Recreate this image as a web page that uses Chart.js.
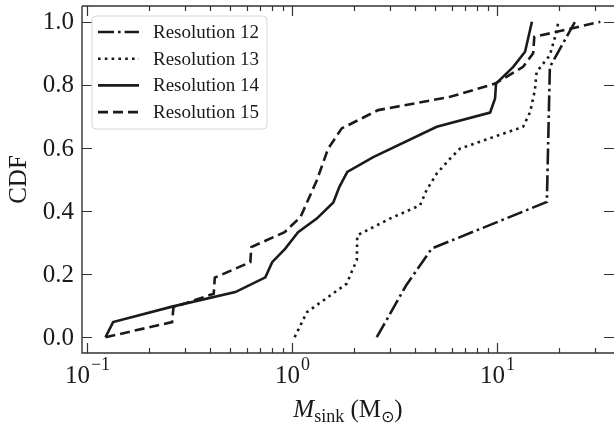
<!DOCTYPE html>
<html>
<head>
<meta charset="utf-8">
<script src="https://cdn.jsdelivr.net/npm/chart.js@4"></script>
<style>
    html, body { margin: 0; padding: 0; background: #fff; }
    #wrap { width: 614px; height: 424px; }
</style>
</head>
<body>
<div id="wrap"><canvas id="cdfChart" width="614" height="424"></canvas></div>
<script>
// Sink mass CDF per resolution level
const res12Mass = [2.59, 3.6, 4.8, 17.5, 18.1, 24.0];
const res12Cdf  = [0.0, 0.164, 0.281, 0.429, 0.857, 1.0];

const res13Mass = [1.03, 1.18, 1.85, 1.95, 2.07, 2.08, 3.0, 4.21, 4.53, 5.08, 5.9, 6.6, 13.4, 14.5, 15.3, 15.6, 18.1, 19.5, 19.9];
const res13Cdf  = [0.0, 0.079, 0.17, 0.206, 0.244, 0.323, 0.376, 0.418, 0.466, 0.519, 0.566, 0.598, 0.667, 0.714, 0.783, 0.841, 0.894, 0.968, 1.0];

const res14Mass = [0.123, 0.134, 0.26, 0.529, 0.741, 0.80, 0.927, 1.07, 1.32, 1.59, 1.70, 1.86, 2.49, 5.08, 9.25, 9.78, 9.89, 12.0, 13.7, 14.8];
const res14Cdf  = [0.0, 0.048, 0.097, 0.143, 0.19, 0.238, 0.281, 0.333, 0.376, 0.427, 0.476, 0.524, 0.571, 0.667, 0.712, 0.757, 0.804, 0.857, 0.905, 1.0];

const res15Mass = [0.123, 0.26, 0.264, 0.415, 0.42, 0.626, 0.633, 0.92, 1.1, 1.32, 1.50, 1.747, 2.63, 5.9, 9.78, 13.4, 15.0, 15.2, 31.9];
const res15Cdf  = [0.0, 0.048, 0.095, 0.138, 0.189, 0.238, 0.286, 0.333, 0.381, 0.497, 0.598, 0.662, 0.72, 0.762, 0.804, 0.857, 0.9, 0.952, 1.0];

const seriesLabels = ['Resolution 12', 'Resolution 13', 'Resolution 14', 'Resolution 15'];
const seriesDashes = [[16, 4, 2.6, 4], [2.6, 4.2], [], [10, 5]];

const yTicks = [0.0, 0.2, 0.4, 0.6, 0.8, 1.0];
const yTickLabels = ['0.0', '0.2', '0.4', '0.6', '0.8', '1.0'];
const xMajorTicks = [0.1, 1, 10];
const xMajorExp = ['\u22121', '0', '1'];
const xMinorTicks = [0.2, 0.3, 0.4, 0.5, 0.6, 0.7, 0.8, 0.9, 2, 3, 4, 5, 6, 7, 8, 9, 20, 30];

const SERIF = '"Liberation Serif", "DejaVu Serif", serif';
const INK = '#1a1a1a';

function toPoints(xs, ys) {
    return xs.map((v, i) => ({ x: v, y: ys[i] }));
}

const allMass = [res12Mass, res13Mass, res14Mass, res15Mass];
const allCdf = [res12Cdf, res13Cdf, res14Cdf, res15Cdf];

const datasets = seriesLabels.map((label, i) => ({
    label: label,
    data: toPoints(allMass[i], allCdf[i]),
    borderColor: INK,
    borderWidth: 2.6,
    borderDash: seriesDashes[i],
    pointRadius: 0,
    tension: 0,
    fill: false
}));

// axes, ticks, labels and legend drawn in matplotlib style
const axisDecor = {
    id: 'axisDecor',
    afterDraw(chart) {
        const ctx = chart.ctx;
        const a = chart.chartArea;
        const xs = chart.scales.x;
        const ys = chart.scales.y;
        ctx.save();

        // frame (right spine falls just outside the picture)
        ctx.strokeStyle = '#333';
        ctx.lineWidth = 1.4;
        ctx.setLineDash([]);
        ctx.beginPath();
        ctx.moveTo(a.left, a.top); ctx.lineTo(a.right, a.top);
        ctx.moveTo(a.left, a.top); ctx.lineTo(a.left, a.bottom); ctx.lineTo(a.right, a.bottom);
        ctx.stroke();

        // tick marks, pointing inward
        ctx.lineWidth = 1.2;
        ctx.beginPath();
        xMajorTicks.forEach(v => {
            const px = Math.round(xs.getPixelForValue(v)) + 0.5;
            ctx.moveTo(px, a.bottom); ctx.lineTo(px, a.bottom - 10);
            ctx.moveTo(px, a.top); ctx.lineTo(px, a.top + 10);
        });
        xMinorTicks.forEach(v => {
            const px = Math.round(xs.getPixelForValue(v)) + 0.5;
            ctx.moveTo(px, a.bottom); ctx.lineTo(px, a.bottom - 5);
            ctx.moveTo(px, a.top); ctx.lineTo(px, a.top + 5);
        });
        yTicks.forEach(v => {
            const py = Math.round(ys.getPixelForValue(v)) + 0.5;
            ctx.moveTo(a.left, py); ctx.lineTo(a.left + 10, py);
            ctx.moveTo(a.right + 1, py); ctx.lineTo(a.right - 10, py);
        });
        ctx.stroke();

        ctx.fillStyle = INK;

        // y tick labels
        ctx.font = '25px ' + SERIF;
        ctx.textAlign = 'right';
        ctx.textBaseline = 'middle';
        yTicks.forEach((v, i) => {
            ctx.fillText(yTickLabels[i], a.left - 8, ys.getPixelForValue(v) + 1);
        });

        // x tick labels 10^n
        ctx.textAlign = 'left';
        ctx.textBaseline = 'alphabetic';
        xMajorTicks.forEach((v, i) => {
            const px = xs.getPixelForValue(v);
            ctx.font = '25px ' + SERIF;
            const w1 = ctx.measureText('10').width;
            ctx.font = '18px ' + SERIF;
            const w2 = ctx.measureText(xMajorExp[i]).width;
            const x0 = px - (w1 + w2) / 2;
            ctx.font = '25px ' + SERIF;
            ctx.fillText('10', x0, 383);
            ctx.font = '18px ' + SERIF;
            ctx.fillText(xMajorExp[i], x0 + w1 + 1, 370);
        });

        // x title: M_sink (M_sun)
        const parts = [
            { t: 'M', f: 'italic 25px ' + SERIF, dy: 0 },
            { t: 'sink', f: '18px ' + SERIF, dy: 5 },
            { t: ' (M', f: '25px ' + SERIF, dy: 0 },
            { t: '\u2299', f: '16px "DejaVu Sans", ' + SERIF, dy: 5 },
            { t: ')', f: '25px ' + SERIF, dy: 0 }
        ];
        let total = 0;
        parts.forEach(p => { ctx.font = p.f; p.w = ctx.measureText(p.t).width; total += p.w; });
        let cx = (a.left + a.right) / 2 - total / 2;
        parts.forEach(p => {
            ctx.font = p.f;
            ctx.fillText(p.t, cx, 417 + p.dy);
            cx += p.w;
        });

        // y title
        ctx.save();
        ctx.translate(19, (a.top + a.bottom) / 2);
        ctx.rotate(-Math.PI / 2);
        ctx.font = '25px ' + SERIF;
        ctx.textAlign = 'center';
        ctx.textBaseline = 'middle';
        ctx.fillText('CDF', 0, 0);
        ctx.restore();

        // legend box
        const lx = 92, ly = 16, lw = 175, lh = 113, r = 4;
        ctx.beginPath();
        ctx.moveTo(lx + r, ly);
        ctx.arcTo(lx + lw, ly, lx + lw, ly + lh, r);
        ctx.arcTo(lx + lw, ly + lh, lx, ly + lh, r);
        ctx.arcTo(lx, ly + lh, lx, ly, r);
        ctx.arcTo(lx, ly, lx + lw, ly, r);
        ctx.closePath();
        ctx.fillStyle = 'rgba(255,255,255,0.8)';
        ctx.fill();
        ctx.strokeStyle = '#d6d6d6';
        ctx.lineWidth = 1;
        ctx.stroke();

        chart.data.datasets.forEach((ds, i) => {
            const rowY = 32 + i * 26.7;
            ctx.strokeStyle = INK;
            ctx.lineWidth = 2.6;
            ctx.setLineDash(ds.borderDash);
            ctx.beginPath();
            ctx.moveTo(98, rowY);
            ctx.lineTo(139, rowY);
            ctx.stroke();
            ctx.setLineDash([]);
            ctx.fillStyle = INK;
            ctx.font = '19px ' + SERIF;
            ctx.textAlign = 'left';
            ctx.textBaseline = 'middle';
            ctx.fillText(ds.label, 153, rowY + 1);
        });

        ctx.restore();
    }
};

new Chart(document.getElementById('cdfChart'), {
    type: 'line',
    data: { datasets: datasets },
    options: {
        responsive: false,
        animation: false,
        layout: { padding: { left: 82, right: 0, top: 6, bottom: 71 } },
        scales: {
            x: { type: 'logarithmic', min: 0.0945, max: 37.2, display: false },
            y: { type: 'linear', min: -0.05, max: 1.05, display: false }
        },
        plugins: {
            legend: { display: false },
            tooltip: { enabled: false }
        }
    },
    plugins: [axisDecor]
});
</script>
</body>
</html>
